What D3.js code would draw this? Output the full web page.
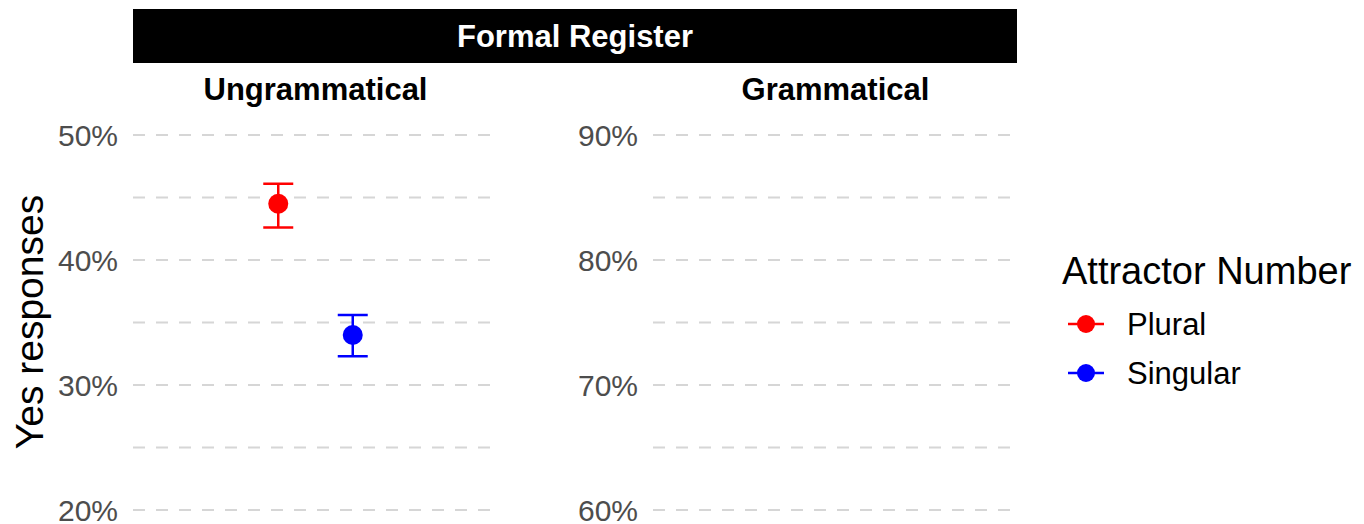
<!DOCTYPE html>
<html>
<head>
<meta charset="utf-8">
<script src="https://cdn.jsdelivr.net/npm/d3@7"></script>
<style>
  body { margin: 0; background: #fff; }
  svg { display: block; font-family: "Liberation Sans", Arial, sans-serif; }
</style>
</head>
<body>
<svg id="chart" width="1364" height="524"></svg>
<script>
// data
const groups = ["Plural", "Singular"];
const groupColors = ["#ff0000", "#0000ff"];
const panels = ["Ungrammatical", "Grammatical"];
const panelDomains = [[0.2, 0.5], [0.6, 0.9]];
const ungrammaticalMean = [0.445, 0.340];
const ungrammaticalLow = [0.426, 0.323];
const ungrammaticalHigh = [0.461, 0.356];
const stripTitle = "Formal Register";
const yTitle = "Yes responses";
const legendTitle = "Attractor Number";

const svg = d3.select("#chart");
const plotTop = 135, plotBottom = 510;
const panelX = [[133, 498], [653, 1018]];
const pointRadius = 10;

// strip
svg.append("rect")
  .attr("x", 133).attr("y", 9)
  .attr("width", 1017 - 133).attr("height", 54)
  .attr("fill", "#000");
svg.append("text")
  .attr("x", (133 + 1017) / 2).attr("y", 47)
  .attr("text-anchor", "middle")
  .attr("fill", "#fff")
  .style("font-size", "31px").style("font-weight", "bold")
  .text(stripTitle);

panels.forEach((name, i) => {
  const [x0, x1] = panelX[i];
  const y = d3.scaleLinear().domain(panelDomains[i]).range([plotBottom, plotTop]);
  const x = d3.scalePoint().domain(groups).range([x0, x1]).padding(1.95);

  const g = svg.append("g").attr("class", "panel");

  // facet label
  g.append("text")
    .attr("x", (x0 + x1) / 2).attr("y", 100)
    .attr("text-anchor", "middle")
    .style("font-size", "31px").style("font-weight", "bold")
    .text(name);

  // gridlines incl. minor
  const grid = d3.range(panelDomains[i][0], panelDomains[i][1] + 0.001, 0.05);
  g.selectAll("line.grid")
    .data(grid)
    .enter()
    .append("line")
    .attr("class", "grid")
    .attr("x1", x0).attr("x2", x1)
    .attr("y1", (d) => y(d)).attr("y2", (d) => y(d))
    .attr("stroke", "#d6d6d6")
    .attr("stroke-width", 2)
    .attr("stroke-dasharray", "12 11");

  // y axis labels
  const yAxis = d3.axisLeft(y)
    .tickValues(d3.range(panelDomains[i][0], panelDomains[i][1] + 0.001, 0.1))
    .tickFormat(d3.format(".0%"))
    .tickSize(0)
    .tickPadding(15);
  const ax = g.append("g").attr("transform", `translate(${x0},0)`).call(yAxis);
  ax.select(".domain").remove();
  ax.selectAll("text")
    .attr("fill", "#4d4d4d")
    .attr("dy", "0.36em")
    .style("font-size", "30px")
    .style("font-family", "Liberation Sans, Arial, sans-serif");

  if (i === 0) {
    const pts = groups.map((grp, k) => ({
      grp, color: groupColors[k],
      mean: ungrammaticalMean[k], lo: ungrammaticalLow[k], hi: ungrammaticalHigh[k]
    }));
    const bars = g.selectAll("g.pt").data(pts).enter().append("g").attr("class", "pt");
    bars.append("line")
      .attr("x1", (d) => x(d.grp)).attr("x2", (d) => x(d.grp))
      .attr("y1", (d) => y(d.lo)).attr("y2", (d) => y(d.hi))
      .attr("stroke", (d) => d.color).attr("stroke-width", 2.5);
    ["lo", "hi"].forEach((k) => {
      bars.append("line")
        .attr("x1", (d) => x(d.grp) - 15).attr("x2", (d) => x(d.grp) + 15)
        .attr("y1", (d) => y(d[k])).attr("y2", (d) => y(d[k]))
        .attr("stroke", (d) => d.color).attr("stroke-width", 2.5);
    });
    bars.append("circle")
      .attr("cx", (d) => x(d.grp)).attr("cy", (d) => y(d.mean))
      .attr("r", pointRadius)
      .attr("fill", (d) => d.color);
  }
});

// y title
svg.append("text")
  .attr("transform", "translate(43,322) rotate(-90)")
  .attr("text-anchor", "middle")
  .style("font-size", "39px")
  .text(yTitle);

// legend
const legend = svg.append("g").attr("transform", "translate(1062,0)");
legend.append("text")
  .attr("x", 0).attr("y", 284)
  .style("font-size", "38px")
  .text(legendTitle);
const keys = legend.selectAll("g.key")
  .data(groups)
  .enter()
  .append("g")
  .attr("class", "key")
  .attr("transform", (d, k) => `translate(0,${324 + k * 49})`);
keys.append("line")
  .attr("x1", 6).attr("x2", 42)
  .attr("stroke", (d, k) => groupColors[k]).attr("stroke-width", 2.5);
keys.append("circle")
  .attr("cx", 24).attr("r", 9)
  .attr("fill", (d, k) => groupColors[k]);
keys.append("text")
  .attr("x", 65).attr("dy", "0.36em")
  .style("font-size", "31px")
  .text((d) => d);
</script>
</body>
</html>
